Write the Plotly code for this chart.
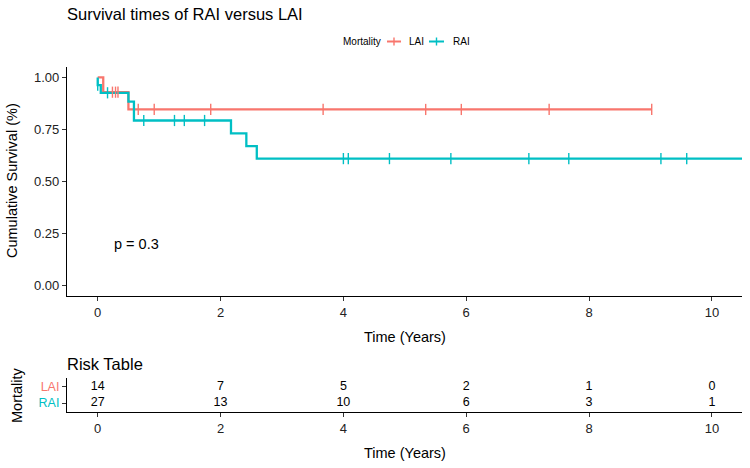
import plotly.graph_objects as go

# ---- data ----
lai_t = [0.0, 0.09, 0.5, 9.02]
lai_s = [1.0, 0.929, 0.846, 0.846]
lai_cens_t = [0.24, 0.29, 0.33, 0.66, 0.92, 1.84, 3.67, 5.34, 5.92, 7.35, 9.02]
lai_cens_s = [0.929, 0.929, 0.929, 0.846, 0.846, 0.846, 0.846, 0.846, 0.846, 0.846, 0.846]

rai_t = [0.0, 0.0, 0.05, 0.5, 0.59, 2.17, 2.42, 2.59, 10.7]
rai_s = [1.0, 0.963, 0.926, 0.884, 0.793, 0.731, 0.670, 0.610, 0.610]
rai_cens_t = [0.0, 0.16, 0.75, 1.25, 1.41, 1.74, 4.0, 4.08, 4.75, 5.75, 7.02, 7.67, 9.17, 9.59]
rai_cens_s = [0.963, 0.926, 0.793, 0.793, 0.793, 0.793, 0.61, 0.61, 0.61, 0.61, 0.61, 0.61, 0.61, 0.61]

risk_times = [0, 2, 4, 6, 8, 10]
risk_lai = [14, 7, 5, 2, 1, 0]
risk_rai = [27, 13, 10, 6, 3, 1]

groups = ["LAI", "RAI"]
RED = "#F8766D"
TEAL = "#00BFC4"
FONT = "Liberation Sans, Arial, sans-serif"

W, H = 750, 468
def px_x(p): return p / W
def px_y(p): return (H - p) / H

fig = go.Figure()

# main curves
fig.add_trace(go.Scatter(x=lai_t, y=lai_s, mode="lines", line=dict(color=RED, width=2.3, shape="hv"),
                         showlegend=False, hoverinfo="skip"))
fig.add_trace(go.Scatter(x=rai_t, y=rai_s, mode="lines", line=dict(color=TEAL, width=2.3, shape="hv"),
                         showlegend=False, hoverinfo="skip"))
fig.add_trace(go.Scatter(x=lai_cens_t, y=lai_cens_s, mode="markers",
                         marker=dict(symbol="line-ns", size=8, line=dict(color=RED, width=1.4)),
                         showlegend=False, hoverinfo="skip"))
fig.add_trace(go.Scatter(x=rai_cens_t, y=rai_cens_s, mode="markers",
                         marker=dict(symbol="line-ns", size=8, line=dict(color=TEAL, width=1.4)),
                         showlegend=False, hoverinfo="skip"))

# risk table
fig.add_trace(go.Scatter(x=risk_times, y=["LAI"] * len(risk_times), mode="text",
                         text=[str(v) for v in risk_lai], textfont=dict(size=12.5, color="black", family=FONT),
                         xaxis="x2", yaxis="y2", showlegend=False, hoverinfo="skip"))
fig.add_trace(go.Scatter(x=risk_times, y=["RAI"] * len(risk_times), mode="text",
                         text=[str(v) for v in risk_rai], textfont=dict(size=12.5, color="black", family=FONT),
                         xaxis="x2", yaxis="y2", showlegend=False, hoverinfo="skip"))

dom_x = [px_x(67), px_x(742)]
axis_common = dict(showline=True, linecolor="black", linewidth=1.2, ticks="outside", ticklen=4,
                   tickcolor="#333333", tickwidth=1, showgrid=False, zeroline=False)
tf = dict(size=13, color="#222222", family=FONT)

fig.update_layout(
    width=W, height=H,
    margin=dict(l=0, r=0, t=0, b=0),
    paper_bgcolor="white", plot_bgcolor="white",
    font=dict(family=FONT, color="black"),
    showlegend=False,
    xaxis=dict(domain=dom_x, range=[-0.5, 10.49], tickvals=[0, 2, 4, 6, 8, 10], anchor="y",
               tickfont=tf, **axis_common),
    yaxis=dict(domain=[px_y(296), px_y(67)], range=[-0.05, 1.05], tickvals=[0, 0.25, 0.5, 0.75, 1.0],
               ticktext=["0.00", "0.25", "0.50", "0.75", "1.00"], anchor="x", tickfont=tf, **axis_common),
    xaxis2=dict(domain=dom_x, range=[-0.5, 10.49], tickvals=[0, 2, 4, 6, 8, 10], anchor="y2",
                tickfont=tf, **axis_common),
    yaxis2=dict(domain=[px_y(412), px_y(378)], range=[-0.56, 1.56], type="category",
                categoryorder="array", categoryarray=["RAI", "LAI"],
                tickvals=["LAI", "RAI"],
                ticktext=[f"<span style='color:{RED}'>LAI</span>", f"<span style='color:{TEAL}'>RAI</span>"],
                anchor="x2", tickfont=dict(size=12.5, family=FONT), **axis_common),
)

annos = [
    dict(text="Survival times of RAI versus LAI", x=px_x(65), y=px_y(14), xanchor="left", yanchor="middle",
         font=dict(size=16.5)),
    dict(text="Cumulative Survival (%)", x=px_x(12), y=px_y(181), textangle=-90, xanchor="center",
         yanchor="middle", font=dict(size=14.5)),
    dict(text="Time (Years)", x=px_x(405), y=px_y(337), xanchor="center", yanchor="middle", font=dict(size=14.5)),
    dict(text="p = 0.3", x=0.23, y=0.2, xref="x", yref="y", xanchor="left", yanchor="middle",
         font=dict(size=14.5), showarrow=False),
    dict(text="Risk Table", x=px_x(65), y=px_y(364), xanchor="left", yanchor="middle", font=dict(size=16.5)),
    dict(text="Mortality", x=px_x(17), y=px_y(395), textangle=-90, xanchor="center", yanchor="middle",
         font=dict(size=14.5)),
    dict(text="Time (Years)", x=px_x(405), y=px_y(453), xanchor="center", yanchor="middle", font=dict(size=14.5)),
    # legend (manual, ggplot-style)
    dict(text="Mortality", x=px_x(341), y=px_y(41), xanchor="left", yanchor="middle", font=dict(size=10)),
]
leg_x = [(387, 401, 407), (429, 444, 451)]
for g, c, (x0, x1, tx) in zip(groups, [RED, TEAL], leg_x):
    annos.append(dict(text=g, x=px_x(tx), y=px_y(41), xanchor="left", yanchor="middle", font=dict(size=10)))
    fig.add_shape(type="line", xref="paper", yref="paper", x0=px_x(x0), x1=px_x(x1), y0=px_y(41.5), y1=px_y(41.5),
                  line=dict(color=c, width=2))
    xm = (x0 + x1) / 2
    fig.add_shape(type="line", xref="paper", yref="paper", x0=px_x(xm), x1=px_x(xm), y0=px_y(37.5), y1=px_y(45.5),
                  line=dict(color=c, width=1.4))

for a in annos:
    a.setdefault("xref", "paper")
    a.setdefault("yref", "paper")
    a["showarrow"] = False
    fig.add_annotation(**a)

fig.write_html("out.html")
